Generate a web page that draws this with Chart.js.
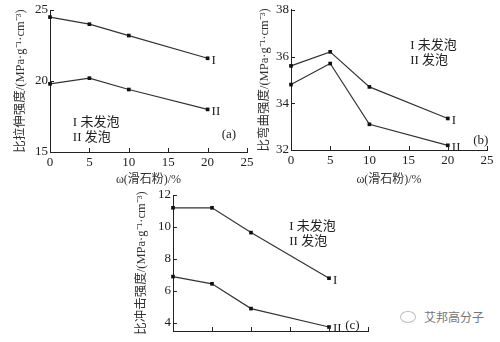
<!DOCTYPE html>
<html>
<head>
<meta charset="utf-8">
<script src="https://cdn.jsdelivr.net/npm/chart.js@4"></script>
<style>
    html, body { margin: 0; padding: 0; background: #fff; }
    #wrap { position: relative; width: 500px; height: 342px; overflow: hidden; }
    canvas { position: absolute; }
    #mark { position: absolute; left: 400px; top: 308px; font: 12px/18px "Noto Sans CJK SC", sans-serif; color: #777; white-space: nowrap; }
    #mark span.icon { display: inline-block; width: 14px; height: 10px; border: 1px solid #bbb; border-radius: 50%; margin-right: 8px; vertical-align: -1px; }
</style>
</head>
<body>
<div id="wrap">
    <canvas id="chartA" width="265" height="190" style="left:0;top:0"></canvas>
    <canvas id="chartB" width="250" height="190" style="left:250px;top:0"></canvas>
    <canvas id="chartC" width="265" height="157" style="left:125px;top:185px"></canvas>
    <div id="mark"><span class="icon"></span>艾邦高分子</div>
</div>
<script>
// talc content, %
const talcContent = [0, 5, 10, 20];
const xTicks = [0, 5, 10, 15, 20, 25];
const seriesNames = ['I', 'II'];
const legendLines = ['I 未发泡', 'II 发泡'];

// (a) specific tensile strength
const tensileUnfoamed = [24.5, 24.0, 23.2, 21.6];
const tensileFoamed = [19.8, 20.2, 19.4, 18.0];
const tensileTicks = [15, 20, 25];

// (b) specific flexural strength
const flexuralUnfoamed = [35.6, 36.2, 34.7, 33.35];
const flexuralFoamed = [34.8, 35.7, 33.1, 32.2];
const flexuralTicks = [32, 34, 36, 38];

// (c) specific impact strength
const impactUnfoamed = [11.2, 11.2, 9.65, 6.8];
const impactFoamed = [6.9, 6.45, 4.9, 3.75];
const impactTicks = [4, 6, 8, 10, 12];

const FONT = '"Liberation Serif", "Noto Sans CJK SC", serif';
const INK = '#222';

// short tick marks pointing into the plot, like the printed figure
const inwardTicks = {
    id: 'inwardTicks',
    afterDraw(chart) {
        const { ctx, chartArea, scales } = chart;
        ctx.save();
        ctx.strokeStyle = INK;
        ctx.lineWidth = 1;
        ctx.beginPath();
        scales.x.ticks.forEach(t => {
            const px = Math.round(scales.x.getPixelForValue(t.value)) + 0.5;
            ctx.moveTo(px, chartArea.bottom);
            ctx.lineTo(px, chartArea.bottom - 4);
        });
        scales.y.ticks.forEach(t => {
            const py = Math.round(scales.y.getPixelForValue(t.value)) + 0.5;
            ctx.moveTo(chartArea.left, py);
            ctx.lineTo(chartArea.left + 4, py);
        });
        ctx.stroke();
        ctx.restore();
    }
};

// curve names at line ends + legend text + panel letter
const notes = {
    id: 'notes',
    afterDatasetsDraw(chart, args, opts) {
        const { ctx, scales } = chart;
        ctx.save();
        ctx.fillStyle = INK;
        ctx.font = `13px ${FONT}`;
        ctx.textBaseline = 'middle';
        ctx.textAlign = 'left';
        chart.data.datasets.forEach((ds, i) => {
            const last = ds.data[ds.data.length - 1];
            ctx.fillText(seriesNames[i], scales.x.getPixelForValue(last.x) + 4, scales.y.getPixelForValue(last.y) + 2);
        });
        legendLines.forEach((txt, i) => {
            ctx.fillText(txt, scales.x.getPixelForValue(opts.legendAt[0]), scales.y.getPixelForValue(opts.legendAt[1]) + i * 15);
        });
        ctx.textAlign = 'center';
        ctx.fillText(opts.panel, scales.x.getPixelForValue(opts.panelAt[0]), scales.y.getPixelForValue(opts.panelAt[1]));
        ctx.restore();
    }
};

function lineSet(label, ys) {
    return {
        label: label,
        data: talcContent.map((x, i) => ({ x: x, y: ys[i] })),
        borderColor: '#333',
        borderWidth: 1.2,
        pointStyle: 'rect',
        pointRadius: 2.6,
        pointBackgroundColor: '#111',
        pointBorderColor: '#111',
        pointBorderWidth: 0,
        tension: 0,
        clip: false
    };
}

function makeChart(id, cfg) {
    return new Chart(document.getElementById(id), {
        type: 'line',
        data: {
            datasets: [lineSet(seriesNames[0], cfg.unfoamed), lineSet(seriesNames[1], cfg.foamed)]
        },
        options: {
            responsive: false,
            animation: false,
            layout: { padding: cfg.padding },
            plugins: {
                legend: { display: false },
                tooltip: { enabled: false },
                notes: cfg.notes
            },
            scales: {
                x: {
                    type: 'linear',
                    min: 0,
                    max: 25,
                    afterBuildTicks: s => { s.ticks = xTicks.map(v => ({ value: v })); },
                    afterFit: s => { s.height = cfg.xHeight; },
                    grid: { display: false, drawTicks: false, tickLength: 0 },
                    border: { display: true, color: INK, width: 1 },
                    ticks: { display: cfg.xLabels, padding: 3, color: INK, font: { family: FONT, size: 13 } },
                    title: {
                        display: cfg.xLabels,
                        text: 'ω(滑石粉)/%',
                        color: '#333',
                        font: { family: FONT, size: 12 },
                        padding: { top: 0, bottom: 3 }
                    }
                },
                y: {
                    type: 'linear',
                    min: cfg.yMin,
                    max: cfg.yMax,
                    afterBuildTicks: s => { s.ticks = cfg.yTicks.map(v => ({ value: v })); },
                    afterFit: s => { s.width = cfg.yWidth; },
                    grid: { display: false, drawTicks: false, tickLength: 0 },
                    border: { display: true, color: INK, width: 1 },
                    ticks: { padding: 2, color: INK, font: { family: FONT, size: 13 } },
                    title: {
                        display: true,
                        text: cfg.yTitle,
                        color: '#333',
                        font: { family: FONT, size: 12.5 },
                        padding: { top: cfg.yTitlePad, bottom: 0 }
                    }
                }
            }
        },
        plugins: [inwardTicks, notes]
    });
}

makeChart('chartA', {
    unfoamed: tensileUnfoamed,
    foamed: tensileFoamed,
    yMin: 15, yMax: 25, yTicks: tensileTicks,
    yTitle: '比拉伸强度/(MPa·g⁻¹·cm⁻³)',
    padding: { top: 10, right: 18, left: 0, bottom: 0 },
    yWidth: 50, xHeight: 38, xLabels: true, yTitlePad: 13,
    notes: { legendAt: [2.9, 17.1], panel: '(a)', panelAt: [22.7, 16.2] }
});

makeChart('chartB', {
    unfoamed: flexuralUnfoamed,
    foamed: flexuralFoamed,
    yMin: 32, yMax: 38, yTicks: flexuralTicks,
    yTitle: '比弯曲强度/(MPa·g⁻¹·cm⁻³)',
    padding: { top: 7, right: 13, left: 0, bottom: 0 },
    yWidth: 41, xHeight: 40, xLabels: true, yTitlePad: 7,
    notes: { legendAt: [15.2, 36.45], panel: '(b)', panelAt: [24.2, 32.4] }
});

makeChart('chartC', {
    unfoamed: impactUnfoamed,
    foamed: impactFoamed,
    yMin: 3.5, yMax: 12, yTicks: impactTicks,
    yTitle: '比冲击强度/(MPa·g⁻¹·cm⁻³)',
    padding: { top: 10, right: 22, left: 0, bottom: 0 },
    yWidth: 48, xHeight: 11, xLabels: false, yTitlePad: 9,
    notes: { legendAt: [14.9, 10.0], panel: '(c)', panelAt: [23.0, 3.85] }
});
</script>
</body>
</html>
